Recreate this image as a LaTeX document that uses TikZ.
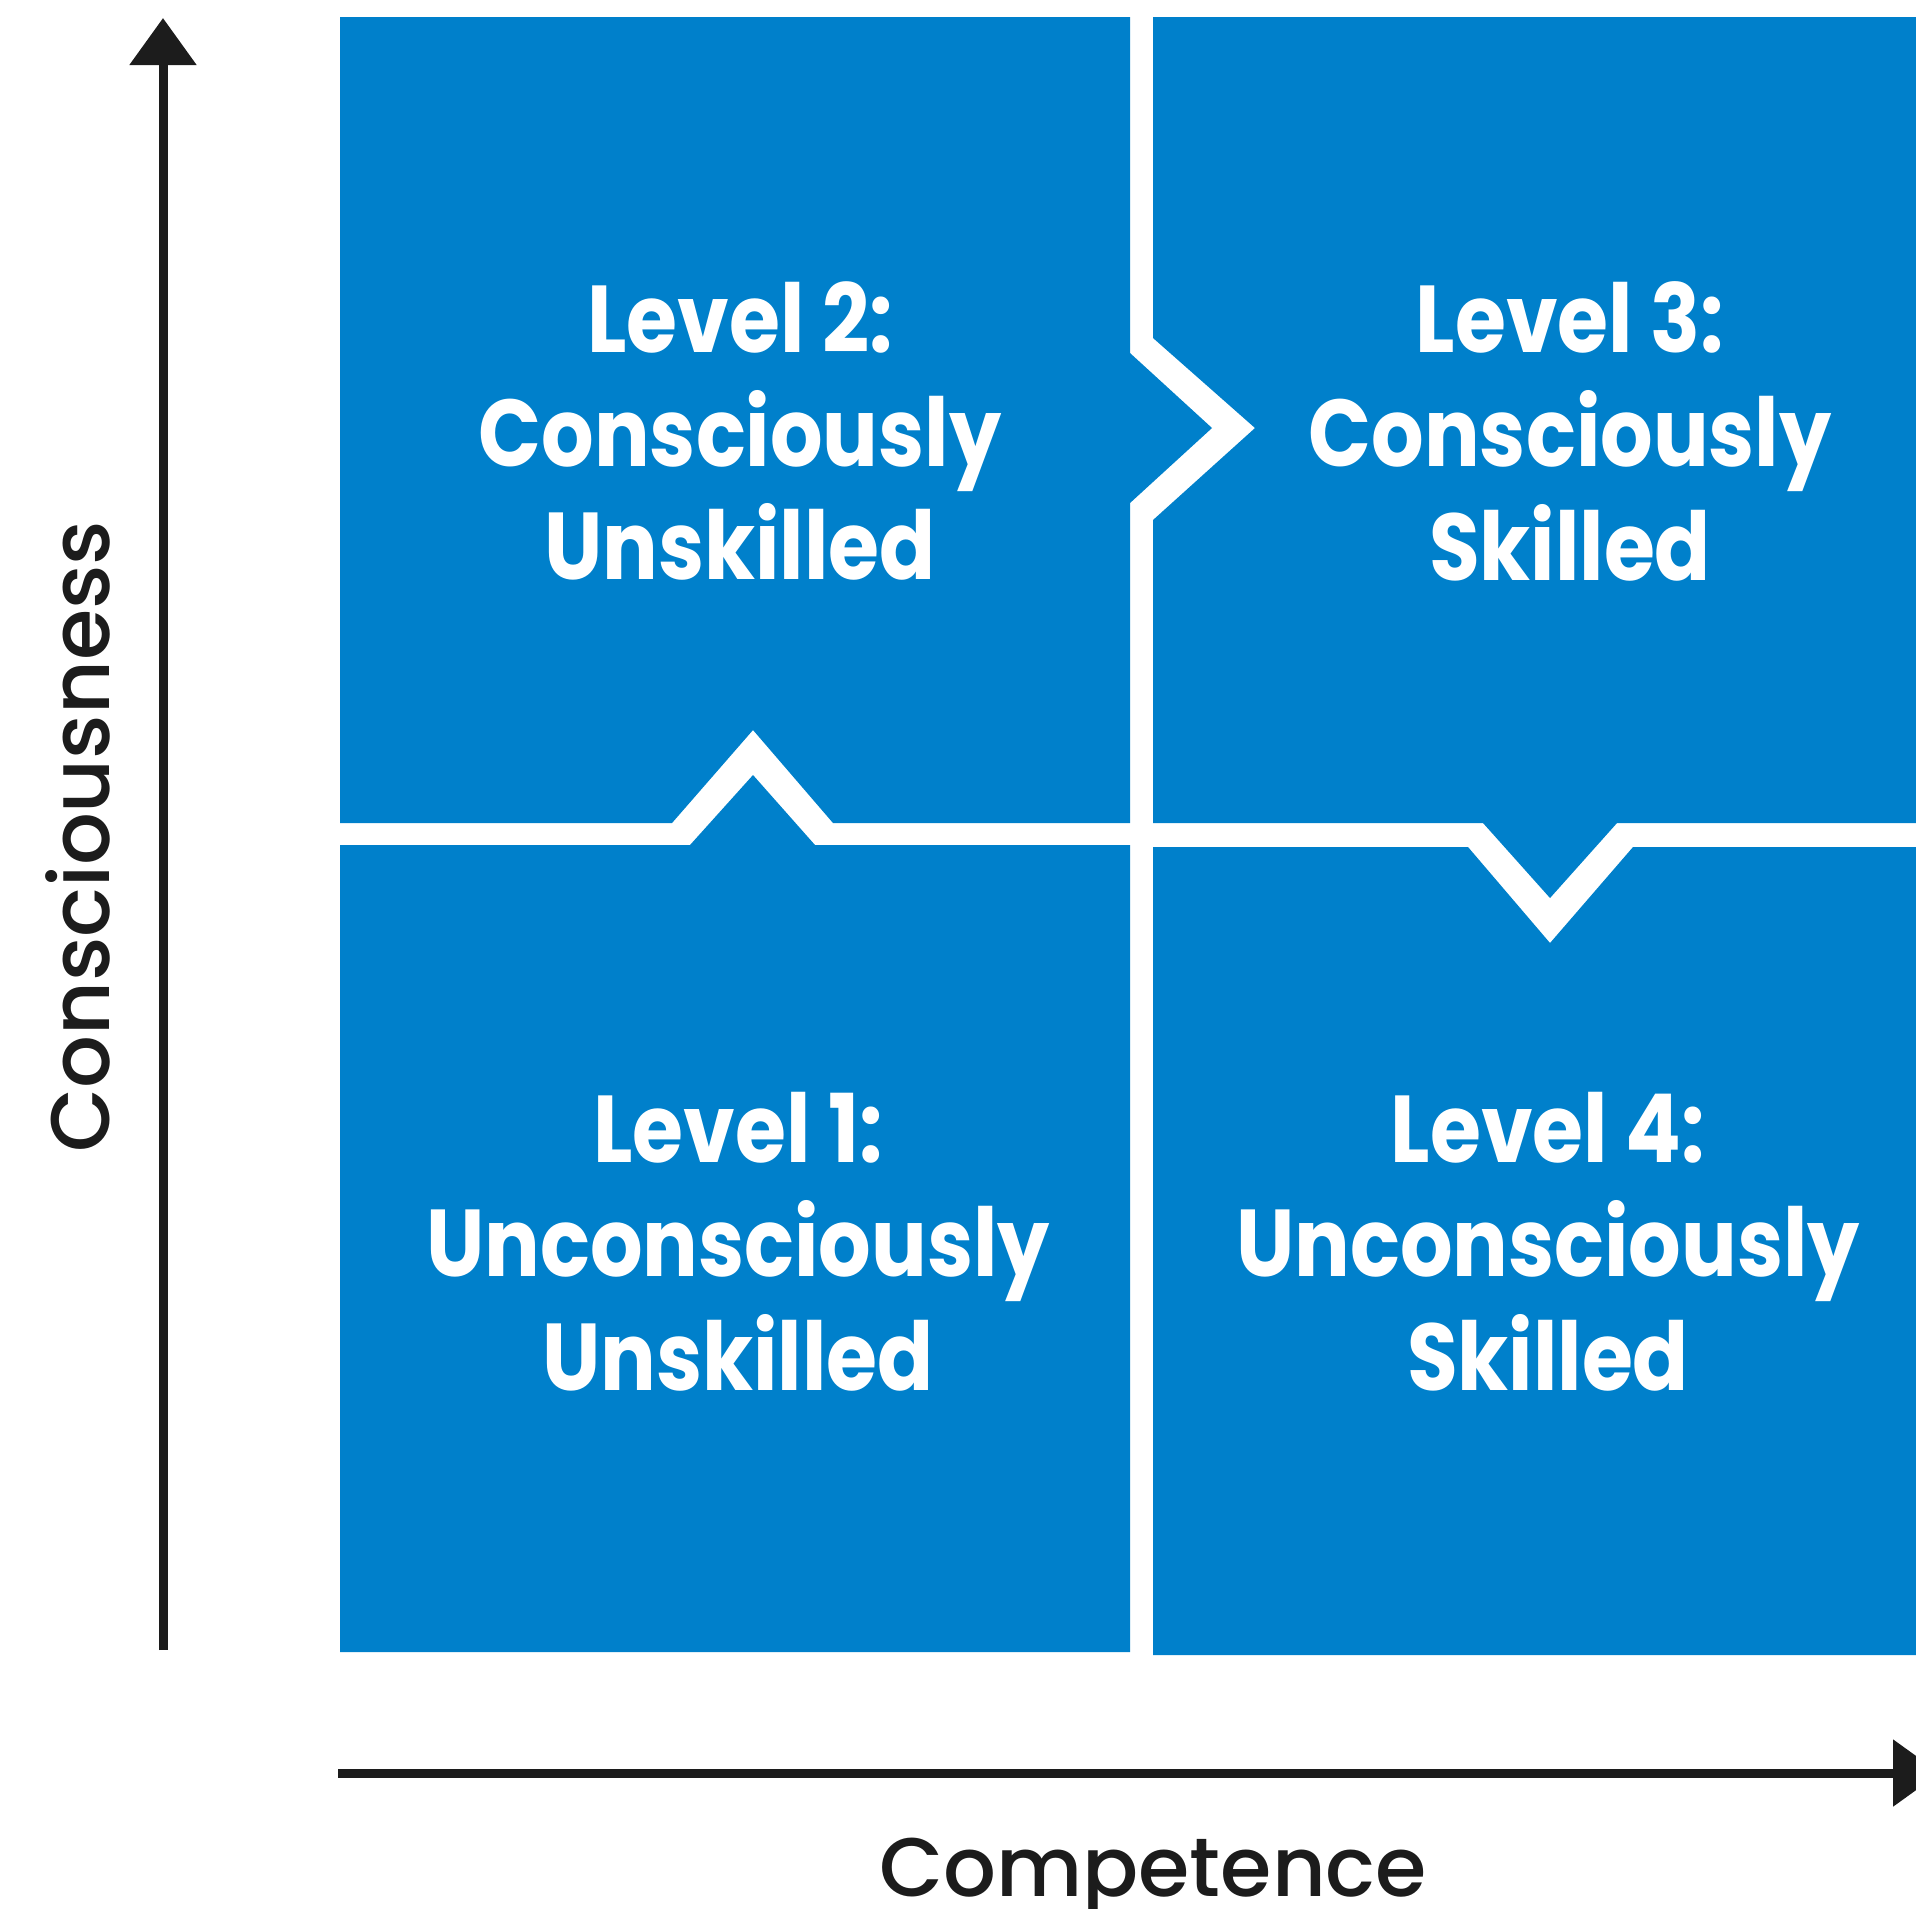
\documentclass[tikz,border=0pt]{standalone}
\usepackage{fontspec}
\setmainfont{Poppins}
\newfontfamily\levelfont{Poppins}[FakeStretch=0.87]
\newfontfamily\axisfont{Poppins Medium}
\usetikzlibrary{arrows.meta}
\definecolor{tileblue}{RGB}{0,128,203}
\definecolor{axisgray}{RGB}{28,28,28}

\begin{document}
\begin{tikzpicture}[x=0.01cm, y=-0.01cm,
    tile/.style={fill=tileblue},
    level/.style={text=white, align=center, inner sep=0pt,
        font={\levelfont\bfseries\fontsize{27}{32.4}\selectfont}},
    axis/.style={draw=axisgray, line width=0.09cm,
        -{Triangle[length=0.47cm, width=0.65cm]}},
    axislabel/.style={text=axisgray, inner sep=0pt,
        font={\axisfont\fontsize{23.6}{28}\selectfont}}]
    \useasboundingbox (0,0) rectangle (1916,1908);

    % Define tiles
    \fill[tile] (340,17) -- (1130,17) -- (1130,353) -- (1212,428) -- (1130,503)
        -- (1130,823) -- (833,823) -- (753,730) -- (672,823) -- (340,823) -- cycle;
    \fill[tile] (1153,17) -- (1916,17) -- (1916,823) -- (1617,823) -- (1550,898)
        -- (1483,823) -- (1153,823) -- (1153,520) -- (1255,428) -- (1153,338) -- cycle;
    \fill[tile] (340,845) -- (690,845) -- (753,775) -- (815,845) -- (1130,845)
        -- (1130,1652) -- (340,1652) -- cycle;
    \fill[tile] (1153,847) -- (1468,847) -- (1550,943) -- (1633,847) -- (1916,847)
        -- (1916,1655) -- (1153,1655) -- cycle;

    % Level labels
    \node[level] (lvl2) at (740,431) {Level 2:\\Consciously\\Unskilled};
    \node[level] (lvl3) at (1570,431) {Level 3:\\Consciously\\Skilled};
    \node[level] (lvl1) at (738,1242) {Level 1:\\Unconsciously\\Unskilled};
    \node[level] (lvl4) at (1548,1242) {Level 4:\\Unconsciously\\Skilled};

    % Axes
    \coordinate (yfoot) at (163,1650);
    \coordinate (ytip) at (163,18);
    \coordinate (xfoot) at (338,1773);
    \coordinate (xtip) at (1940,1773);
    \draw[axis] (yfoot) -- (ytip);
    \draw[axis] (xfoot) -- (xtip);
    \node[axislabel, rotate=90, anchor=base] (ylab) at (109,837) {Consciousness};
    \node[axislabel, anchor=base] (xlab) at (1153,1896) {Competence};

\end{tikzpicture}
\end{document}
